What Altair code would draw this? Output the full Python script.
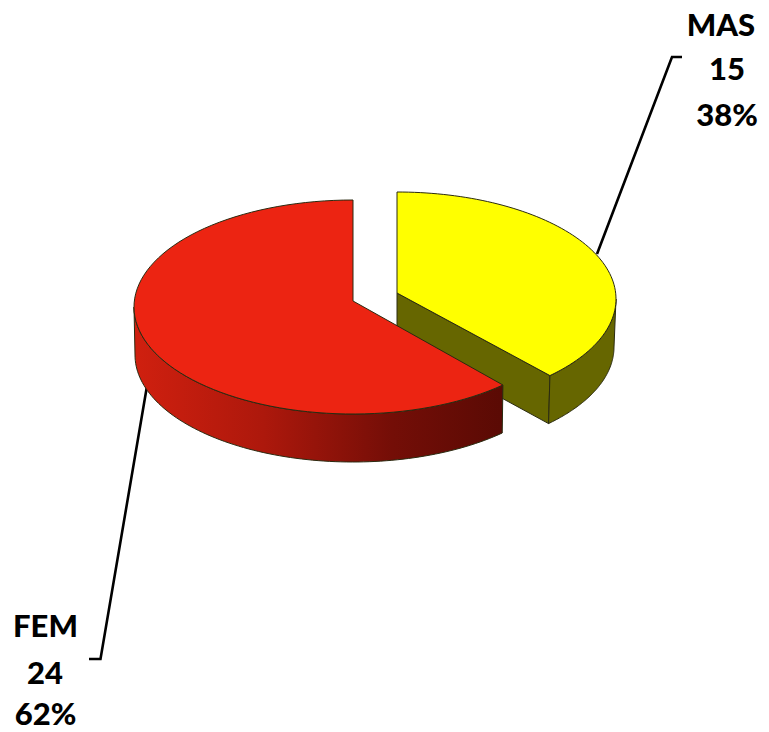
import numpy as np
import pandas as pd
import altair as alt

LABELS = ["MAS", "FEM"]
COUNTS = [15, 24]
PERCENTS = ["38%", "62%"]
# sweep of each slice on the tilted disc (degrees from 12 o'clock)
SWEEPS = [135.7, 223.2]
DIRECTIONS = [1, -1]
CENTER_X = [397, 353]
CENTER_Y = [299, 307]
APEX_Y = [293, 301]
RX = [219, 219]
RX_LOW = [217, 218]
RY = [107, 107]
DEPTH = [48, 48]
TOP_COLORS = ["#ffff00", "#ec2412"]
OLIVE = "#666600"
RED_SIDE = [(0, "#d0200f"), (0.35, "#ad180c"), (0.7, "#740e07"), (1, "#5a0a04")]
LEADER_X = [[597, 672, 682], [147, 100.5, 89]]
LEADER_Y = [[254, 57, 57], [386, 659, 659]]
TEXT_X = [[721, 727, 727], [45.5, 45, 45.5]]
TEXT_Y = [[27, 71, 117], [628, 675, 716]]

X = alt.X("x:Q", scale=alt.Scale(domain=[8, 761]), axis=None)
Y = alt.Y("y:Q", scale=alt.Scale(domain=[732, 8]), axis=None)
EDGE = "#2a2a10"


def arc(k, t0, t1, low=False):
    t = np.radians(np.linspace(t0, t1, 90))
    rx = RX_LOW[k] if low else RX[k]
    dy = DEPTH[k] if low else 0
    return (CENTER_X[k] + DIRECTIONS[k] * rx * np.sin(t),
            CENTER_Y[k] + dy - RY[k] * np.cos(t))


def polygon(xs, ys, fill, width=1.0):
    df = pd.DataFrame({"x": xs, "y": ys, "i": range(len(xs))})
    return alt.Chart(df).mark_line(
        interpolate="linear-closed", fill=fill, stroke=EDGE,
        strokeWidth=width, strokeJoin="round",
    ).encode(x=X, y=Y, order=alt.Order("i:Q"))


def top_face(k):
    ax, ay = arc(k, 0, SWEEPS[k])
    return polygon([CENTER_X[k], *ax], [APEX_Y[k], *ay], TOP_COLORS[k])


def outer_side(k, fill):
    ax, ay = arc(k, 90, SWEEPS[k])
    bx, by = arc(k, 90, SWEEPS[k], low=True)
    return polygon([*ax, *bx[::-1]], [*ay, *by[::-1]], fill)


def cut_side(k, fill):
    ax, ay = arc(k, SWEEPS[k], SWEEPS[k])
    bx, by = arc(k, SWEEPS[k], SWEEPS[k], low=True)
    return polygon(
        [CENTER_X[k], ax[0], bx[0], CENTER_X[k]],
        [APEX_Y[k], ay[0], by[0], APEX_Y[k] + DEPTH[k]],
        fill,
    )


red_gradient = alt.LinearGradient(
    gradient="linear", x1=0, x2=1, y1=0, y2=0,
    stops=[alt.GradientStop(offset=o, color=c) for o, c in RED_SIDE],
)

layers = []
for k in range(2):
    lead = pd.DataFrame({"x": LEADER_X[k], "y": LEADER_Y[k], "i": range(3)})
    layers.append(alt.Chart(lead).mark_line(color="black", strokeWidth=2.6).encode(
        x=X, y=Y, order=alt.Order("i:Q")))

layers += [
    cut_side(0, OLIVE),
    outer_side(0, OLIVE),
    top_face(0),
    outer_side(1, red_gradient),
    top_face(1),
]

rows = []
for k in range(2):
    for line, (tx, ty) in zip(
        [LABELS[k], str(COUNTS[k]), PERCENTS[k]], zip(TEXT_X[k], TEXT_Y[k])
    ):
        rows.append({"x": tx, "y": ty, "t": line})
layers.append(alt.Chart(pd.DataFrame(rows)).mark_text(
    font="Lato", fontWeight=900, fontSize=31, color="black",
    align="center", baseline="middle",
).encode(x=X, y=Y, text="t:N"))

chart = alt.layer(*layers).properties(
    width=753, height=724, padding=0, background="white",
    autosize=alt.AutoSizeParams(type="none"),
).configure_view(stroke=None)

chart.save("out.html", embed_options={"renderer": "svg", "actions": False})
